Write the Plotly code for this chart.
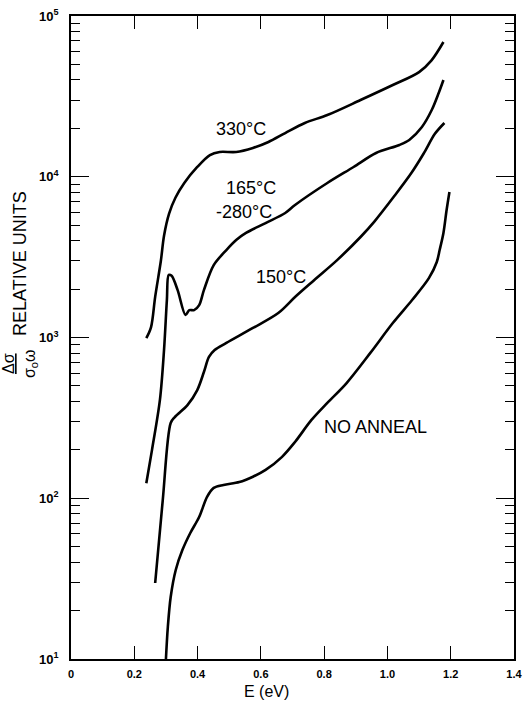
import math
import plotly.graph_objects as go

# Photoconductivity spectra, E in eV, signal in relative units
e_330 = [0.238, 0.253, 0.266, 0.284, 0.294, 0.310, 0.330, 0.358, 0.399, 0.439, 0.470,
         0.522, 0.575, 0.624, 0.677, 0.739, 0.810, 0.915, 1.017, 1.100, 1.140, 1.177]
v_330 = [990, 1160, 1790, 3000, 4300, 5900, 7400, 9140, 11500, 13650, 14260,
         14260, 15100, 16450, 18700, 21600, 24200, 30000, 37200, 44800, 53200, 68900]

e_165 = [0.238, 0.256, 0.281, 0.294, 0.303, 0.309, 0.318, 0.337, 0.362, 0.374,
         0.389, 0.405, 0.420, 0.451, 0.491, 0.522, 0.553, 0.615, 0.677, 0.708,
         0.810, 0.893, 0.964, 1.038, 1.069, 1.109, 1.140, 1.162, 1.177]
v_165 = [124, 200, 409, 836, 1710, 2450, 2420, 1970, 1380, 1480,
         1480, 1590, 1970, 2820, 3500, 4040, 4470, 5150, 5950, 6670,
         9140, 11500, 14060, 15770, 16940, 20400, 26000, 33200, 40000]

e_150 = [0.266, 0.290, 0.315, 0.328, 0.368, 0.399, 0.420, 0.436, 0.454, 0.491,
         0.575, 0.655, 0.708, 0.769, 0.841, 0.915, 0.960, 1.020, 1.075, 1.115,
         1.150, 1.180]
v_150 = [29.7, 97.5, 294, 320, 380, 471, 610, 757, 836, 925,
         1146, 1420, 1786, 2280, 3030, 4220, 5300, 7500, 10500, 14000,
         18500, 21600]

e_none = [0.300, 0.306, 0.315, 0.331, 0.352, 0.377, 0.405, 0.430, 0.451, 0.482,
          0.532, 0.575, 0.615, 0.667, 0.708, 0.760, 0.810, 0.871, 0.946, 1.017,
          1.078, 1.131, 1.156, 1.165, 1.177, 1.187, 1.196]
v_none = [10, 15.8, 24.3, 35.8, 47.6, 60.8, 76.4, 102, 116, 121,
          126, 136, 150, 181, 224, 307, 392, 521, 802, 1230,
          1710, 2340, 2950, 3500, 4470, 6210, 8040]

x_ticks = [0, 0.2, 0.4, 0.6, 0.8, 1.0, 1.2, 1.4]
x_ticktext = ["0", "0.2", "0.4", "0.6", "0.8", "1.0", "1.2", "1.4"]
y_ticks = [1e1, 1e2, 1e3, 1e4, 1e5]
y_ticktext = ["10<sup>1</sup>", "10<sup>2</sup>", "10<sup>3</sup>",
              "10<sup>4</sup>", "10<sup>5</sup>"]

# curve labels: (text, E, value)
labels = [
    ("330°C", 0.536, 10 ** 4.30),
    ("165°C", 0.569, 10 ** 3.93),
    ("-280°C", 0.547, 10 ** 3.78),
    ("150°C", 0.664, 10 ** 3.376),
    ("NO ANNEAL", 0.961, 10 ** 2.443),
]

FONT = "Liberation Sans"
# plot-area geometry in pixels, used to place the outer titles
L, R, T, B = 71, 523, 16, 659


def px_x(p):
    return (p - L) / (R - L)


def px_y(p):
    return (B - p) / (B - T)


fig = go.Figure()
for ex, vy in [(e_330, v_330), (e_165, v_165), (e_150, v_150), (e_none, v_none)]:
    fig.add_trace(go.Scatter(
        x=ex, y=vy, mode="lines",
        line=dict(color="black", width=2.6, shape="spline", smoothing=0.9),
        showlegend=False, hoverinfo="skip"))

for text, ex, vy in labels:
    fig.add_annotation(x=ex, y=math.log10(vy), xref="x", yref="y", text=text,
                       showarrow=False, xanchor="center", yanchor="middle",
                       font=dict(family=FONT, size=18, color="black"))

# rotated y-axis title: fraction plus words
fig.add_annotation(xref="paper", yref="paper", x=px_x(19), y=px_y(364),
                   xanchor="center", yanchor="middle",
                   text="<u>Δσ</u><br>σ<sub>o</sub>ω", textangle=-90, showarrow=False,
                   font=dict(family=FONT, size=16, color="black"))
fig.add_annotation(xref="paper", yref="paper", x=px_x(19), y=px_y(264),
                   xanchor="center", yanchor="middle",
                   text="RELATIVE UNITS", textangle=-90, showarrow=False,
                   font=dict(family=FONT, size=18, color="black"))
# x-axis title
fig.add_annotation(xref="paper", yref="paper", x=px_x(270), y=px_y(691),
                   xanchor="center", yanchor="middle",
                   text="E (eV)", showarrow=False,
                   font=dict(family=FONT, size=16, color="black"))

minor_vals = [m * 10 ** d for d in range(1, 5) for m in range(2, 10)]

fig.update_layout(
    width=529, height=702,
    margin=dict(l=L, r=529 - R, t=T, b=702 - B),
    paper_bgcolor="white", plot_bgcolor="white",
    xaxis=dict(range=[0, 1.4], tickvals=x_ticks, ticktext=x_ticktext,
               ticks="inside", ticklen=13, tickwidth=1.3, tickcolor="black",
               showline=True, linecolor="black", linewidth=1.5, mirror="ticks",
               showgrid=False, zeroline=False, ticklabelstandoff=4,
               ticklabeloverflow="allow",
               tickfont=dict(family=FONT, size=11, color="black", weight="bold")),
    yaxis=dict(type="log", range=[1, 5], tickvals=y_ticks, ticktext=y_ticktext,
               ticks="inside", ticklen=18, tickwidth=1.3, tickcolor="black",
               showline=True, linecolor="black", linewidth=1.5, mirror="ticks",
               showgrid=False, zeroline=False, ticklabelstandoff=8,
               ticklabeloverflow="allow",
               minor=dict(tickvals=minor_vals, ticks="inside", ticklen=9,
                          tickwidth=1.2, tickcolor="black", showgrid=False),
               tickfont=dict(family=FONT, size=13, color="black", weight="bold")),
)

fig.write_html("out.html")
